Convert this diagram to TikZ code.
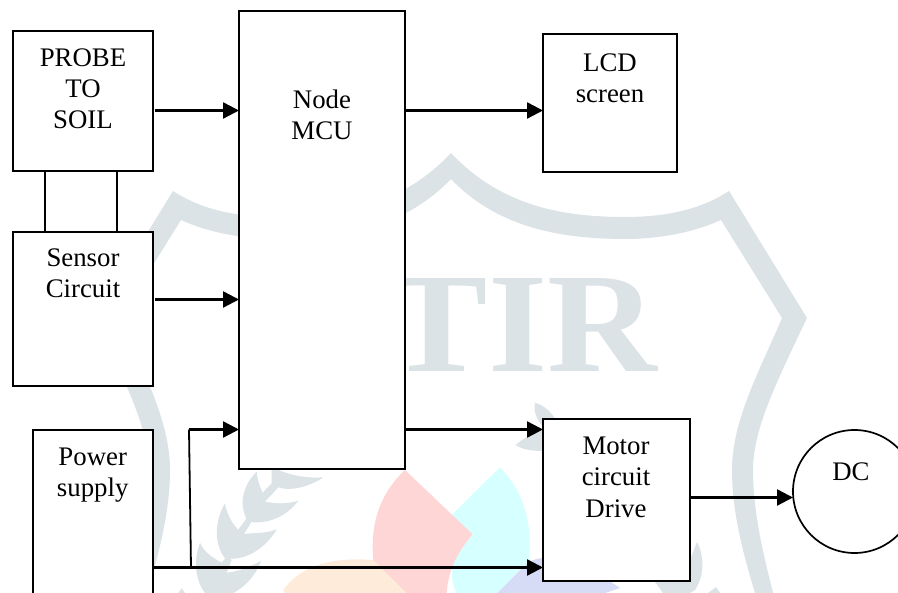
\documentclass[tikz,border=0pt]{standalone}
\usepackage{fontspec}
\setmainfont{Liberation Serif}
\usetikzlibrary{arrows.meta}
\definecolor{wm}{HTML}{DCE3E6}
\definecolor{wpink}{HTML}{FFD6D6}
\definecolor{wcyan}{HTML}{D6FFFF}
\definecolor{wblue}{HTML}{D6DCF5}
\definecolor{worange}{HTML}{FFEBD9}
\tikzset{
  box/.style={draw=black,fill=white,line width=2pt,rectangle,inner sep=0pt,outer sep=0pt,anchor=north west},
  txt/.style={inner sep=0pt,outer sep=0pt,anchor=base,align=center,font=\fontsize{26.8}{31.3}\selectfont,text=black},
  arr/.style={line width=2.4pt,-{Triangle[length=16pt,width=16pt]}},
  wire/.style={line width=1.8pt},
  shieldside/.style={fill=wm,draw=none}
}
\begin{document}
\begin{tikzpicture}[x=1pt,y=-1pt]
\useasboundingbox (0,0) rectangle (898,593);
\clip (0,0) rectangle (898,593);
\fill[white] (0,0) rectangle (898,593);
% watermark: shield band, right half and its mirror image
\foreach \sc/\sh in {1/0,-1/902}{
\begin{scope}[shift={(\sh,0)},xscale=\sc]
\fill[shieldside] (451,153) .. controls (500,205) and (560,217) .. (625,217)
  .. controls (665,217) and (700,210) .. (729,191) -- (807,318)
  .. controls (775,385) and (753,430) .. (753,470)
  .. controls (753,515) and (765,560) .. (773,593) -- (755,593)
  .. controls (742,550) and (732,510) .. (732,470)
  .. controls (732,420) and (760,370) .. (782,318) -- (721,220)
  .. controls (695,232) and (660,239) .. (625,239)
  .. controls (555,239) and (495,225) .. (451,179) -- cycle;
\end{scope}}
\node[inner sep=0pt,outer sep=0pt,anchor=base east,text=wm,font=\fontsize{142}{142}\bfseries\selectfont] (tir) at (657,372) {\scalebox{1.07}[1]{TIR}};
% watermark: laurel leaves (coordinates of a 3x enlargement)
\begin{scope}[shift={(150,380)},scale=1/3]
\fill[wm] (365,260) .. controls (420,290) and (480,295) .. (520,292) .. controls (480,320) and (420,335) .. (385,322) -- (345,347) -- (338,338) -- (365,310) -- cycle;
\fill[wm] (320,275) .. controls (275,320) and (265,380) .. (295,425) .. controls (350,435) and (410,410) .. (445,362) .. controls (415,372) and (380,372) .. (345,365) -- (385,322) -- (372,318) -- (342,345) .. controls (330,325) and (322,300) .. (320,275) -- cycle;
\fill[wm] (225,370) .. controls (195,420) and (190,490) .. (225,535) .. controls (290,545) and (350,500) .. (380,448) .. controls (345,462) and (310,458) .. (282,462) -- (305,425) -- (290,415) -- (265,449) .. controls (245,430) and (230,400) .. (225,370) -- cycle;
\fill[wm] (150,488) .. controls (130,540) and (135,600) .. (165,639) -- (250,639) .. controls (285,620) and (315,590) .. (333,543) .. controls (300,560) and (265,575) .. (230,578) -- (245,540) -- (230,530) -- (215,548) .. controls (190,535) and (160,515) .. (150,488) -- cycle;
\fill[wm] (95,625) -- (105,639) -- (85,639) -- cycle;
% right laurel
\fill[wm] (1155,68) .. controls (1180,75) and (1205,95) .. (1220,125) -- (1180,140) .. controls (1160,120) and (1150,95) .. (1155,68) -- cycle;
\fill[wm] (1097,195) .. controls (1125,170) and (1160,155) .. (1190,150) -- (1190,212) .. controls (1150,215) and (1115,208) .. (1097,195) -- cycle;
\end{scope}
\fill[wm] (697,542) .. controls (704,555) and (705,575) .. (695,590) -- (690,593) -- (663,593) -- (650,575) -- (690,560) -- cycle;
\fill[wm] (708,593) -- (716,587) -- (720,593) -- cycle;
% watermark: coloured petals (coordinates of a 3x enlargement)
\begin{scope}[shift={(150,380)},scale=1/3]
\fill[worange] (400,630) .. controls (450,560) and (540,530) .. (670,540) -- (770,639) -- (405,639) -- cycle;
\end{scope}
\fill[wblue] (545,558) .. controls (538,558) and (532,560) .. (527,563) -- (497,593) -- (605,593) -- (620,588) -- (590,568) -- cycle;
\begin{scope}[shift={(150,380)},scale=1/3]
\fill[wcyan] (1050,262) .. controls (1125,340) and (1145,430) .. (1138,540) -- (1040,639) -- (920,639) .. controls (900,600) and (900,560) .. (925,520) -- (968,463) -- (905,405) -- cycle;
\fill[wpink] (765,270) -- (968,463) .. controls (920,520) and (895,570) .. (890,639) -- (770,639) -- (670,540) .. controls (660,430) and (690,340) .. (765,270) -- cycle;
\end{scope}
% boxes
\node[box,minimum width=140pt,minimum height=140pt] (probe) at (13,31.5) {};
\node[box,minimum width=140pt,minimum height=154pt] (sensor) at (13,231.7) {};
\node[box,minimum width=120pt,minimum height=190pt] (power) at (33,430) {};
\node[box,minimum width=166pt,minimum height=457.5pt] (mcu) at (239,11.5) {};
\node[box,minimum width=134pt,minimum height=138pt] (lcd) at (543,34) {};
\node[box,minimum width=147pt,minimum height=162pt] (motor) at (543,419.5) {};
\node[draw=black,fill=white,line width=1.7pt,circle,minimum size=123pt,inner sep=0pt,outer sep=0pt] (dc) at (854.5,491.5) {};
% texts
\node[txt] (tprobe) at (83,129) {PROBE\\TO\\SOIL};
\node[txt] (tsensor) at (83,297.8) {Sensor\\Circuit};
\node[txt] (tpower) at (92.7,496.5) {Power\\supply};
\node[txt] (tmcu) at (322,139.5) {Node\\MCU};
\node[txt] (tlcd) at (610,102.5) {LCD\\screen};
\node[txt] (tmotor) at (616,517.3) {Motor\\circuit\\Drive};
\node[txt] (tdc) at (851,481) {DC};
% connector helpers
\coordinate (a1) at (155,110.5);
\coordinate (a2) at (155,299.5);
\coordinate (a3) at (153,567.5);
\coordinate (j1) at (191,567.5);
\coordinate (j2) at (189,429.5);
\coordinate (a4) at (405,110.5);
\coordinate (a5) at (405,429.5);
\coordinate (a6) at (690,497.5);
\coordinate (v1) at (45,200);
\coordinate (v2) at (117,200);
% connectors
\draw[arr] (a1) -- (a1 -| mcu.west);
\draw[arr] (a2) -- (a2 -| mcu.west);
\draw[arr] (a4) -- (a4 -| lcd.west);
\draw[arr] (a5) -- (a5 -| motor.west);
\draw[arr] (a6) -- (a6 -| dc.west);
\draw[arr] (a3) -- (a3 -| motor.west);
\draw[wire] (j1) -- (j2);
\draw[arr] (j2) -- (j2 -| mcu.west);
\draw[wire] (v1 |- probe.south) -- (v1 |- sensor.north);
\draw[wire] (v2 |- probe.south) -- (v2 |- sensor.north);
\end{tikzpicture}
\end{document}
